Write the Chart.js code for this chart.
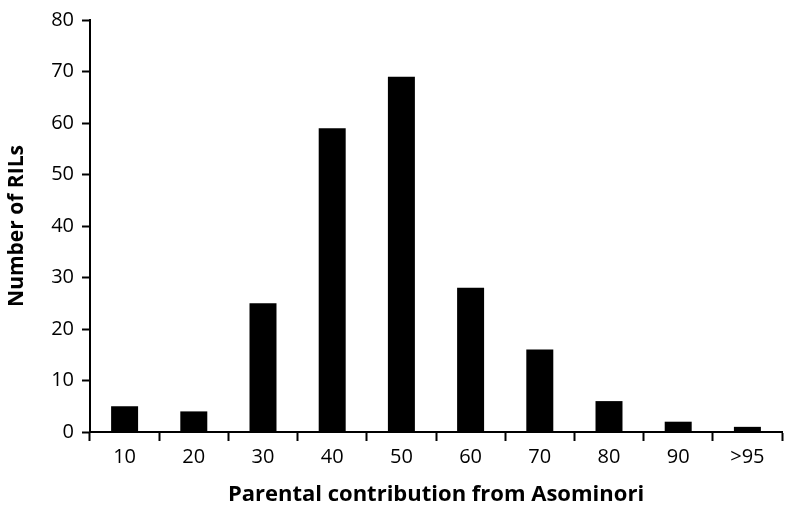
<!DOCTYPE html>
<html>
<head>
<meta charset="utf-8">
<script src="https://cdn.jsdelivr.net/npm/chart.js@4"></script>
<style>
  html, body { margin: 0; padding: 0; background: #fff; }
  #wrap { width: 786px; height: 516px; }
</style>
</head>
<body>
<div id="wrap"><canvas id="rilChart" width="786" height="516"></canvas></div>
<script>
// Data
const contributionBins = ['10', '20', '30', '40', '50', '60', '70', '80', '90', '>95'];
const rilCounts = [5, 4, 25, 59, 69, 28, 16, 6, 2, 1];
const yTicks = [0, 10, 20, 30, 40, 50, 60, 70, 80];

const FONT = '"Open Sans", Lato, sans-serif';

const ctx = document.getElementById('rilChart').getContext('2d');
new Chart(ctx, {
    type: 'bar',
    data: {
        labels: contributionBins,
        datasets: [{
            label: 'Number of RILs',
            data: rilCounts,
            backgroundColor: '#000',
            borderWidth: 0,
            categoryPercentage: 1,
            barPercentage: 0.39
        }]
    },
    options: {
        responsive: false,
        animation: false,
        layout: { padding: { top: 12, right: 4, left: 0, bottom: 0 } },
        plugins: {
            legend: { display: false },
            tooltip: { enabled: false }
        },
        scales: {
            x: {
                grid: {
                    offset: true,
                    drawOnChartArea: false,
                    drawTicks: true,
                    tickLength: 9,
                    tickWidth: 2,
                    tickColor: '#000'
                },
                border: { color: '#000', width: 2 },
                ticks: {
                    color: '#000',
                    font: { family: FONT, size: 20 },
                    padding: 4,
                    maxRotation: 0
                },
                title: {
                    display: true,
                    text: 'Parental contribution from Asominori',
                    color: '#000',
                    font: { family: FONT, size: 22, weight: 'bold' },
                    padding: { top: 0, bottom: 8 }
                },
                afterFit: function(scale) { scale.height = 84; }
            },
            y: {
                min: 0,
                max: 80,
                afterBuildTicks: function(scale) {
                    scale.ticks = yTicks.map(v => ({ value: v }));
                },
                grid: {
                    drawOnChartArea: false,
                    drawTicks: true,
                    tickLength: 8,
                    tickWidth: 2,
                    tickColor: '#000'
                },
                border: { color: '#000', width: 2 },
                ticks: {
                    color: '#000',
                    font: { family: FONT, size: 20 },
                    padding: 8
                },
                title: {
                    display: true,
                    text: 'Number of RILs',
                    color: '#000',
                    font: { family: FONT, size: 21, weight: 'bold' },
                    padding: { top: 4, bottom: 4 }
                },
                afterFit: function(scale) { scale.width = 90; }
            }
        }
    }
});
</script>
</body>
</html>
